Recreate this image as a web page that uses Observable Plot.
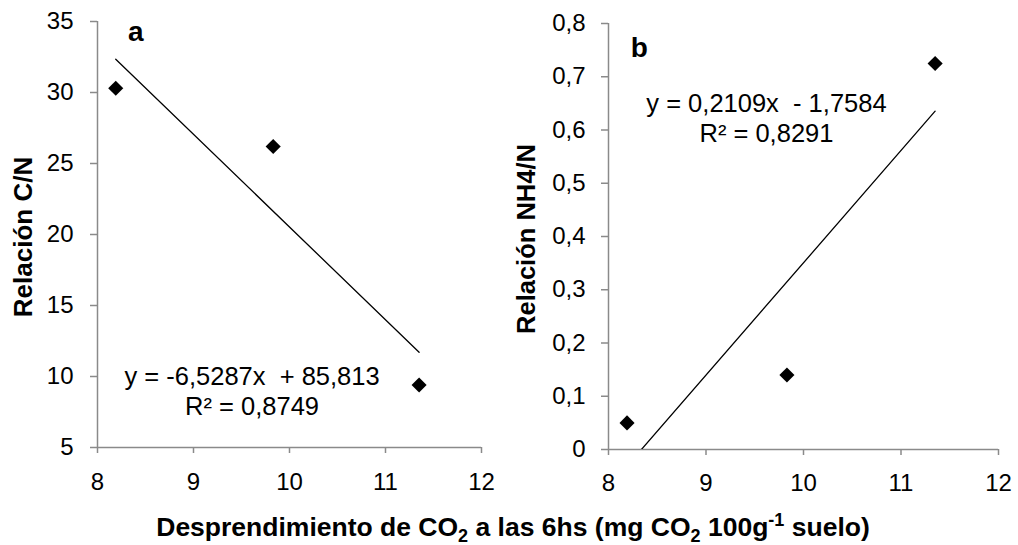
<!DOCTYPE html>
<html><head><meta charset="utf-8">
<script src="https://cdn.jsdelivr.net/npm/d3@7"></script>
<script src="https://cdn.jsdelivr.net/npm/@observablehq/plot@0.6"></script>
<style>
body{margin:0;background:#fff;font-family:"Liberation Sans",Arial,sans-serif;}
#wrap{position:relative;width:1018px;height:545px;overflow:hidden;background:#fff;}
.panel{position:absolute;top:0;}
.ytitle{position:absolute;font-weight:bold;font-size:26px;white-space:nowrap;line-height:1;transform:translate(-50%,-50%) rotate(-90deg);color:#000;}
#xtitle{position:absolute;left:513px;top:527px;font-weight:bold;font-size:26.5px;white-space:nowrap;line-height:1;transform:translate(-50%,-50%);color:#000;}
#xtitle sub,#xtitle sup{font-size:0.68em;line-height:0;}
</style></head><body>
<div id="wrap">
  <div id="panelA" class="panel" style="left:0"></div>
  <div id="panelB" class="panel" style="left:509px"></div>
  <div class="ytitle" style="left:23px;top:237px">Relación C/N</div>
  <div class="ytitle" style="left:527px;top:239px;font-size:25.5px">Relación NH4/N</div>
  <div id="xtitle">Desprendimiento de CO<sub>2</sub> a las 6hs (mg CO<sub>2</sub> 100g<sup>-1</sup> suelo)</div>
</div>
<script>
// ---- data ----
const co2 = [8.19, 9.83, 11.35];          // CO2 release at 6 h
const relCN = [30.3, 26.2, 9.4];          // panel a
const relNH4N = [0.05, 0.14, 0.725];      // panel b
const xTicks = [8, 9, 10, 11, 12];
const yTicksA = [5, 10, 15, 20, 25, 30, 35];
const yTicksB = [0, 0.1, 0.2, 0.3, 0.4, 0.5, 0.6, 0.7, 0.8];
const fitA = [-6.5287, 85.813];   // slope, intercept
const fitB = [0.2109, -1.7584];
const eqA = ["y = -6,5287x\u00a0 + 85,813", "R² = 0,8749"];
const eqB = ["y = 0,2109x\u00a0 - 1,7584", "R² = 0,8291"];

const comma = d => d === 0 ? "0" : d3.format(".1f")(d).replace(".", ",");
const pts = ys => co2.map((x, i) => ({x, y: ys[i]}));
const fit = f => d3.extent(co2).map(x => ({x, y: f[0] * x + f[1]}));
const axisCol = "#8a8a8a";
const fam = "'Liberation Sans', Arial, sans-serif";
const font = {fontFamily: fam, fontSize: "24px", background: "white", overflow: "visible"};

function panel({ys, yDomain, yTicks, yFmt, f, eq, eqX, eqY, letter, letX, letY, ydx, xdy, margins}) {
  return Plot.plot({
    width: 509, height: 480,
    ...margins,
    style: font,
    x: {domain: [8, 12]},
    y: {domain: yDomain},
    marks: [
      Plot.axisX(xTicks, {tickSize: 6, stroke: axisCol, strokeWidth: 1.5, tickFormat: () => "", label: null}),
      Plot.axisY(yTicks, {tickSize: 7, stroke: axisCol, strokeWidth: 1.5, tickFormat: () => "", label: null}),
      Plot.text(xTicks, {x: d => d, y: yDomain[0], text: d => String(d), textAnchor: "middle", lineAnchor: "bottom", dy: xdy, fontSize: 24, fontFamily: fam, fill: "black"}),
      Plot.text(yTicks, {x: 8, y: d => d, text: yFmt, textAnchor: "end", lineAnchor: "middle", dx: ydx, fontSize: 24, fontFamily: fam, fill: "black"}),
      Plot.ruleX([8], {stroke: axisCol, strokeWidth: 1.5}),
      Plot.ruleY([yDomain[0]], {stroke: axisCol, strokeWidth: 1.5}),
      Plot.line(fit(f), {x: "x", y: "y", stroke: "black", strokeWidth: 1.3, clip: true}),
      Plot.dot(pts(ys), {x: "x", y: "y", symbol: "diamond2", r: 6.8, fill: "black", stroke: null}),
      Plot.text([eq.join("\n")], {x: eqX, y: eqY, textAnchor: "middle", lineAnchor: "bottom", lineHeight: 1.16, fontSize: 25.5, fontFamily: fam, fill: "black"}),
      Plot.text([letter], {x: letX, y: letY, textAnchor: "middle", lineAnchor: "bottom", fontSize: 28, fontFamily: fam, fontWeight: "bold", fill: "black"})
    ]
  });
}

document.getElementById("panelA").append(panel({
  ys: relCN, yDomain: [5, 35], yTicks: yTicksA, yFmt: d => String(d), f: fitA,
  eq: eqA, eqX: 9.61, eqY: 7.32, letter: "a", letX: 8.4, letY: 33.66, ydx: -24, xdy: 42,
  margins: {marginLeft: 97, marginRight: 28, marginTop: 21, marginBottom: 33}
}));
document.getElementById("panelB").append(panel({
  ys: relNH4N, yDomain: [0, 0.8], yTicks: yTicksB, yFmt: comma, f: fitB,
  eq: eqB, eqX: 9.62, eqY: 0.5775, letter: "b", letX: 8.315, letY: 0.737, ydx: -23, xdy: 41,
  margins: {marginLeft: 99, marginRight: 20, marginTop: 23, marginBottom: 31}
}));
</script>
</body></html>
